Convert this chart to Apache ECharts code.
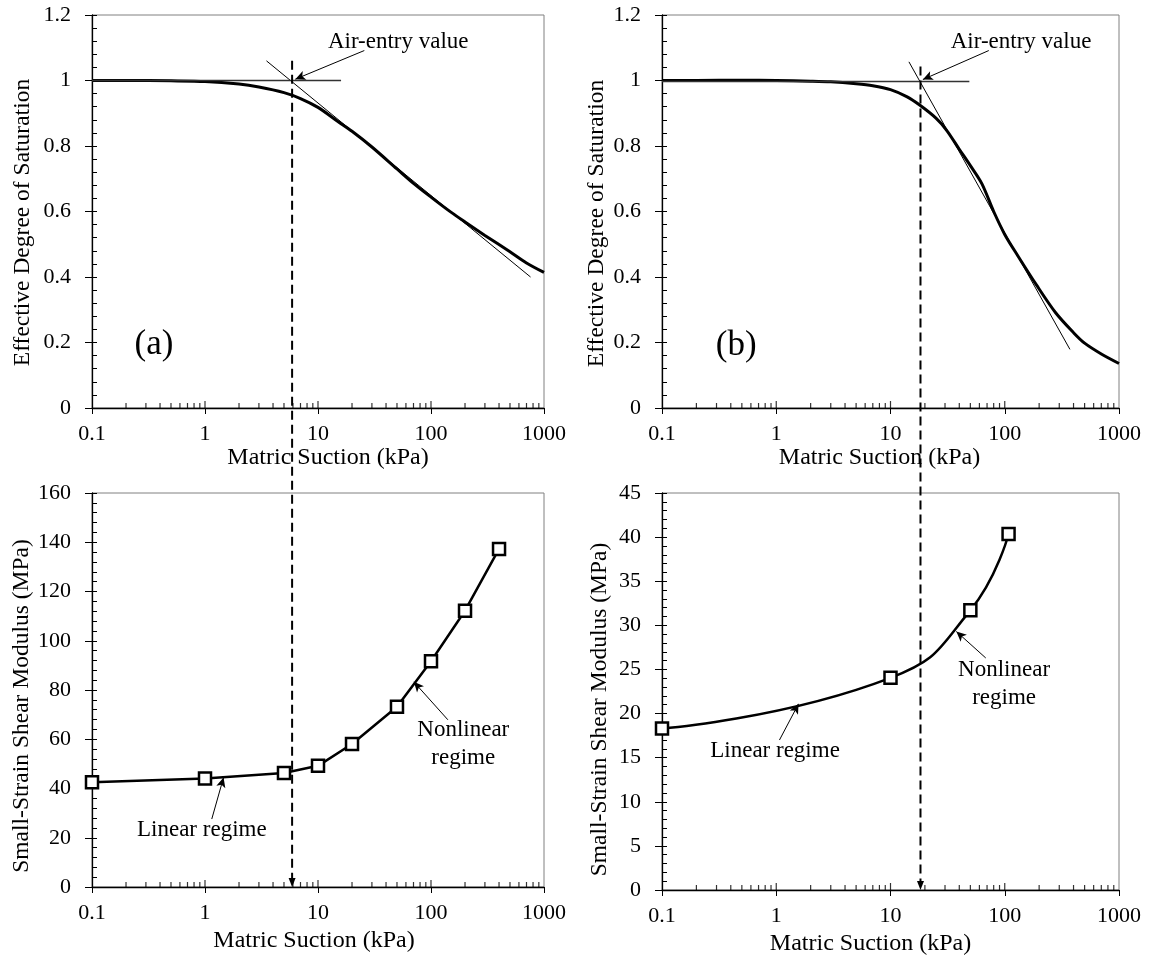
<!DOCTYPE html>
<html><head><meta charset="utf-8">
<script src="https://cdn.jsdelivr.net/npm/echarts@6/dist/echarts.min.js"></script>
<style>html,body{margin:0;padding:0;background:#fff}#c{width:1155px;height:957px}</style>
</head><body><div id="c"></div>
<script>
// ---------- data ----------
const suctionA = [0.1,0.2,0.5,1,2,3,5,7,10,15,20,30,50,70,100,150,200,300,500,700,1000];
const saturationA = [1.0,1.0,0.999,0.997,0.989,0.980,0.963,0.945,0.918,0.875,0.845,0.797,0.730,0.686,0.644,0.598,0.568,0.527,0.477,0.443,0.414];
const suctionB = [0.1,0.2,0.5,1,2,3,5,7,10,14,18,25,31,40,50,63,80,100,130,190,280,400,500,700,1000];
const saturationB = [1.0,1.0,1.001,1.0,0.998,0.996,0.99,0.984,0.972,0.95,0.925,0.885,0.848,0.79,0.74,0.685,0.60,0.53,0.465,0.375,0.29,0.23,0.198,0.165,0.136];
const tangentA = [[3.5,1.06],[760,0.40]];
const horizA = [[0.1,1.0],[16,1.0]];
const tangentB = [[14.5,1.057],[372,0.179]];
const horizB = [[0.1,0.997],[49,0.997]];
const suctionGa = [0.1,1,5,10,20,50,100,200,400];
const modulusA = [42.5,44.1,46.3,49.2,58.1,73.2,91.7,112.2,137.3];
const suctionGb = [0.1,10,50,108];
const modulusB = [18.3,24.05,31.7,40.35];
const airEntryA = 5.9, airEntryB = 18.3;
const xTickLabels = ['0.1','1','10','100','1000'];
const minorTickValues = [0.2,0.3,0.4,0.5,0.6,0.7,0.8,0.9,2,3,4,5,6,7,8,9,20,30,40,50,60,70,80,90,200,300,400,500,600,700,800,900];
const decadeTickValues = [1,10,100];
// annotations: [grid, x, y, text, size]
const notes = [
  [0, 51.3, 1.119, 'Air-entry value', 23],
  [1, 139, 1.119, 'Air-entry value', 23],
  [0, 0.354, 0.194, '(a)', 35],
  [1, 0.446, 0.190, '(b)', 35],
  [2, 0.937, 23.1, 'Linear regime', 23],
  [2, 193, 57.9, 'Nonlinear\nregime', 23],
  [3, 0.976, 15.8, 'Linear regime', 23],
  [3, 98.7, 23.4, 'Nonlinear\nregime', 23]
];
// arrows: [grid, from, to]
const arrows = [
  [0, [25.7,1.0915], [6.3,1.004]],
  [1, [72.5,1.0915], [19.2,1.003]],
  [2, [1.148,27.6], [1.46,44.5]],
  [2, [141,67.9], [70.5,83.3]],
  [3, [1.067,17.0], [1.567,21.1]],
  [3, [68.2,26.3], [37.7,29.3]]
];

// ---------- layout ----------
const chart = echarts.init(document.getElementById('c'), null, {renderer:'canvas'});
const FONT = "'Liberation Serif','Times New Roman',serif";
const grids = [
  {left:92, top:15, width:452, height:393},
  {left:662, top:15, width:457, height:393},
  {left:92, top:493, width:452, height:394},
  {left:662, top:493, width:457, height:397}
];
const yRanges = [[0,1.2,0.2],[0,1.2,0.2],[0,160,20],[0,45,5]];
const yNames = ['Effective Degree of Saturation','Effective Degree of Saturation','Small-Strain Shear Modulus (MPa)','Small-Strain Shear Modulus (MPa)'];
const yNameGap = [57, 53, 58, 50];
const yNameShift = [11, 12, 16, 18];
const xNameGap = [36, 36, 42, 42];
const xNameShift = [10, -11, -4, -20];

const xAxes = [], yAxes = [], series = [];
grids.forEach((g, i) => {
  const s = xNameShift[i];
  xAxes.push({
    type:'log', logBase:10, min:0.1, max:1000, gridIndex:i,
    axisLine:{lineStyle:{color:'#000', width:1.3}},
    axisTick:{show:true, length:6, lineStyle:{color:'#000', width:1}},
    axisLabel:{margin:15, fontFamily:FONT, fontSize:22, color:'#000',
      formatter:v => { const k = Math.round(Math.log10(v)) + 1; return xTickLabels[k] !== undefined ? xTickLabels[k] : ''; }},
    splitLine:{show:false},
    name:'Matric Suction (kPa)', nameLocation:'middle', nameGap:xNameGap[i],
    nameTextStyle:{fontFamily:FONT, fontSize:24, color:'#000', padding:[0, s < 0 ? -2*s : 0, 0, s > 0 ? 2*s : 0]}
  });
  yAxes.push({
    type:'value', min:yRanges[i][0], max:yRanges[i][1], interval:yRanges[i][2], gridIndex:i, position:'left',
    axisLine:{show:true, lineStyle:{color:'#000', width:1.3}},
    axisTick:{show:true, length:7, lineStyle:{color:'#000', width:1}},
    axisLabel:{margin:21, fontFamily:FONT, fontSize:22, color:'#000'},
    splitLine:{show:false},
    name:yNames[i], nameLocation:'middle', nameGap:yNameGap[i],
    nameTextStyle:{fontFamily:FONT, fontSize:23.5, color:'#000', padding:[0, 2*yNameShift[i], 0, 0]}
  });
});
// overlay y-axes: inner major + minor ticks
grids.forEach((g, i) => {
  yAxes.push({
    type:'value', min:yRanges[i][0], max:yRanges[i][1], interval:yRanges[i][2], gridIndex:i, position:'left', offset:0,
    axisLine:{show:false}, axisLabel:{show:false}, splitLine:{show:false},
    axisTick:{show:true, inside:true, length:5, lineStyle:{color:'#000', width:1}},
    minorTick:{show:true, splitNumber:5, length:5, lineStyle:{color:'#000', width:1}}
  });
});
// overlay top x-axes (black top border)
grids.forEach((g, i) => {
  xAxes.push({
    type:'log', logBase:10, min:0.1, max:1000, gridIndex:i, position:'top',
    axisLine:{show:true, lineStyle:{color:'#000', width:1}},
    axisTick:{show:false}, axisLabel:{show:false}, splitLine:{show:false}
  });
});

function arrowMarks(gi) {
  return {
    silent:true, symbol:['none','arrow'], symbolSize:[7,10],
    label:{show:false}, lineStyle:{color:'#000', width:1, type:'solid'},
    data: arrows.filter(a => a[0] === gi).map(a => [{coord:a[1]}, {coord:a[2]}])
  };
}
function tickData() {
  return minorTickValues.map(v => ({value:[v,0], symbolSize:[1.2,5], symbolOffset:[0,-2.5]}))
    .concat(decadeTickValues.map(v => ({value:[v,0], symbolSize:[1.2,7], symbolOffset:[0,-3.5]})));
}

const zip = (xs, ys) => xs.map((x, k) => [x, ys[k]]);

// panel (a) top
series.push({type:'line', xAxisIndex:0, yAxisIndex:0, data:zip(suctionA, saturationA), smooth:0.3, showSymbol:false,
  lineStyle:{color:'#000', width:3}, clip:false, markLine:arrowMarks(0)});
series.push({type:'line', xAxisIndex:0, yAxisIndex:0, data:tangentA, showSymbol:false, lineStyle:{color:'#000', width:1}});
series.push({type:'line', xAxisIndex:0, yAxisIndex:0, data:horizA, showSymbol:false, lineStyle:{color:'#333', width:1.5}});
// panel (b) top
series.push({type:'line', xAxisIndex:1, yAxisIndex:1, data:zip(suctionB, saturationB), smooth:0.3, showSymbol:false,
  lineStyle:{color:'#000', width:3}, clip:false, markLine:arrowMarks(1)});
series.push({type:'line', xAxisIndex:1, yAxisIndex:1, data:tangentB, showSymbol:false, lineStyle:{color:'#000', width:1}});
series.push({type:'line', xAxisIndex:1, yAxisIndex:1, data:horizB, showSymbol:false, lineStyle:{color:'#333', width:1.5}});
// bottom (a)
series.push({type:'line', xAxisIndex:2, yAxisIndex:2, data:zip(suctionGa, modulusA), symbol:'rect', symbolSize:12,
  itemStyle:{color:'#fff', borderColor:'#000', borderWidth:2.5}, lineStyle:{color:'#000', width:2.5}, markLine:arrowMarks(2)});
// bottom (b)
series.push({type:'line', xAxisIndex:3, yAxisIndex:3, data:zip(suctionGb, modulusB), smooth:0.5, symbol:'rect', symbolSize:12,
  itemStyle:{color:'#fff', borderColor:'#000', borderWidth:2.5}, lineStyle:{color:'#000', width:2.5}, markLine:arrowMarks(3)});
// x minor ticks
grids.forEach((g, i) => {
  series.push({type:'scatter', xAxisIndex:i, yAxisIndex:i, data:tickData(), symbol:'rect', silent:true, clip:false,
    itemStyle:{color:'#000'}, z:5});
});

chart.setOption({
  animation:false,
  backgroundColor:'#fff',
  grid: grids.map(g => Object.assign({show:true, borderColor:'#808080', borderWidth:1, backgroundColor:'transparent', containLabel:false}, g)),
  xAxis: xAxes, yAxis: yAxes, series: series
});

// graphics: dashed air-entry lines spanning two panels, and text annotations
const gfx = [];
[[airEntryA, 1.06, 0, 2], [airEntryB, 1.043, 1, 3]].forEach(([xv, ytop, gTop, gBot]) => {
  const p1 = chart.convertToPixel({gridIndex:gTop}, [xv, ytop]);
  const p2 = chart.convertToPixel({gridIndex:gBot}, [xv, 0]);
  gfx.push({type:'line', shape:{x1:p1[0], y1:p1[1], x2:p2[0], y2:p2[1]-6},
    style:{stroke:'#000', lineWidth:2, lineDash:[9,5]}, z:10, silent:true});
  gfx.push({type:'polygon', shape:{points:[[p2[0]-3.5, p2[1]-9], [p2[0]+3.5, p2[1]-9], [p2[0], p2[1]]]},
    style:{fill:'#000'}, z:10, silent:true});
});
notes.forEach(([gi, xv, yv, txt, fs]) => {
  const p = chart.convertToPixel({gridIndex:gi}, [xv, yv]);
  gfx.push({type:'text', x:p[0], y:p[1], z:12, silent:true,
    style:{text:txt, fontFamily:FONT, fontSize:fs, fill:'#000', align:'center', verticalAlign:'middle', lineHeight:fs+5}});
});
chart.setOption({graphic: gfx});
</script>
</body></html>
